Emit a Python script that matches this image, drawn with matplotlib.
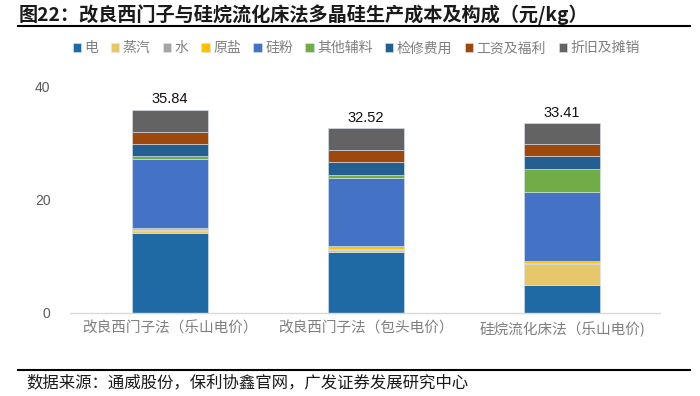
import numpy as np
import matplotlib.pyplot as plt
from matplotlib.lines import Line2D

plt.rcParams['font.family'] = ['Noto Sans CJK SC', 'DejaVu Sans']

categories = ["改良西门子法（乐山电价）", "改良西门子法（包头电价）", "硅烷流化床法（乐山电价)"]
totals = [35.84, 32.52, 33.41]

# 各成本项（元/kg），自下而上
series = ["电", "蒸汽", "水", "原盐", "硅粉", "其他辅料", "检修费用", "工资及福利", "折旧及摊销"]
elec = [14.17, 10.76, 5.00]
steam = [0.30, 0.30, 3.65]
water = [0.10, 0.20, 0.18]
salt = [0.40, 0.47, 0.30]
si_powder = [12.16, 12.12, 12.26]
other_mat = [0.47, 0.47, 4.07]
repair = [2.18, 2.37, 2.18]
wages = [2.18, 1.95, 2.12]
deprec = [3.88, 3.88, 3.65]

colors = ["#1F6AA5", "#E6C86A", "#A5A5A5", "#FFC000", "#4472C4",
          "#70AD47", "#255E91", "#9E480E", "#636363"]

values = [elec, steam, water, salt, si_powder, other_mat, repair, wages, deprec]

fig = plt.figure(figsize=(7, 3.96), dpi=100)
ax = fig.add_axes([0.1, 0.2096, 0.843, 0.5732])

x = np.arange(len(categories))
bottom = np.zeros(len(categories))
for name, vals, c in zip(series, values, colors):
    ax.bar(x, vals, 0.39, bottom=bottom, color=c, label=name,
           edgecolor="#DCE6F0", linewidth=0.4)
    bottom += np.array(vals)

for xi, t, b in zip(x, totals, bottom):
    ax.text(xi, b + 0.6, f"{t:.2f}", ha="center", va="bottom",
            fontsize=10.5, family="Liberation Sans", color="#111111")

ax.set_xlim(-0.51, 2.5)
ax.set_ylim(0, 40)
ax.set_yticks([0, 20, 40])
ax.set_xticks(x)
ax.set_xticklabels(categories, fontsize=10.5, color="#7F7F7F")
ax.tick_params(axis="y", length=0, labelsize=10, labelcolor="#595959", pad=14)
ax.tick_params(axis="x", length=0, pad=6)
for lab in ax.get_yticklabels():
    lab.set_family("Liberation Sans")
for s in ["top", "right", "left"]:
    ax.spines[s].set_visible(False)
ax.spines["bottom"].set_color("#D9D9D9")
ax.spines["bottom"].set_linewidth(1)

leg = fig.legend(loc="center", bbox_to_anchor=(0.509, 0.878), ncol=9,
                 frameon=False, fontsize=10, handlelength=0.6, handleheight=0.6,
                 handletextpad=0.25, columnspacing=0.9)
for t in leg.get_texts():
    t.set_color("#7F7F7F")

fig.text(0.026, 0.962, "图22：改良西门子与硅烷流化床法多晶硅生产成本及构成（元/kg）",
         fontsize=13.8, fontweight="bold", color="#1A1A1A", va="center")
fig.add_artist(Line2D([0.026, 0.986], [0.934, 0.934], color="black", lw=1.5))
fig.add_artist(Line2D([0.026, 0.986], [0.066, 0.066], color="black", lw=1.5))
fig.text(0.038, 0.032, "数据来源：通威股份，保利协鑫官网，广发证券发展研究中心",
         fontsize=11.8, color="#1A1A1A", va="center")

fig.savefig("out.png", dpi=100)
